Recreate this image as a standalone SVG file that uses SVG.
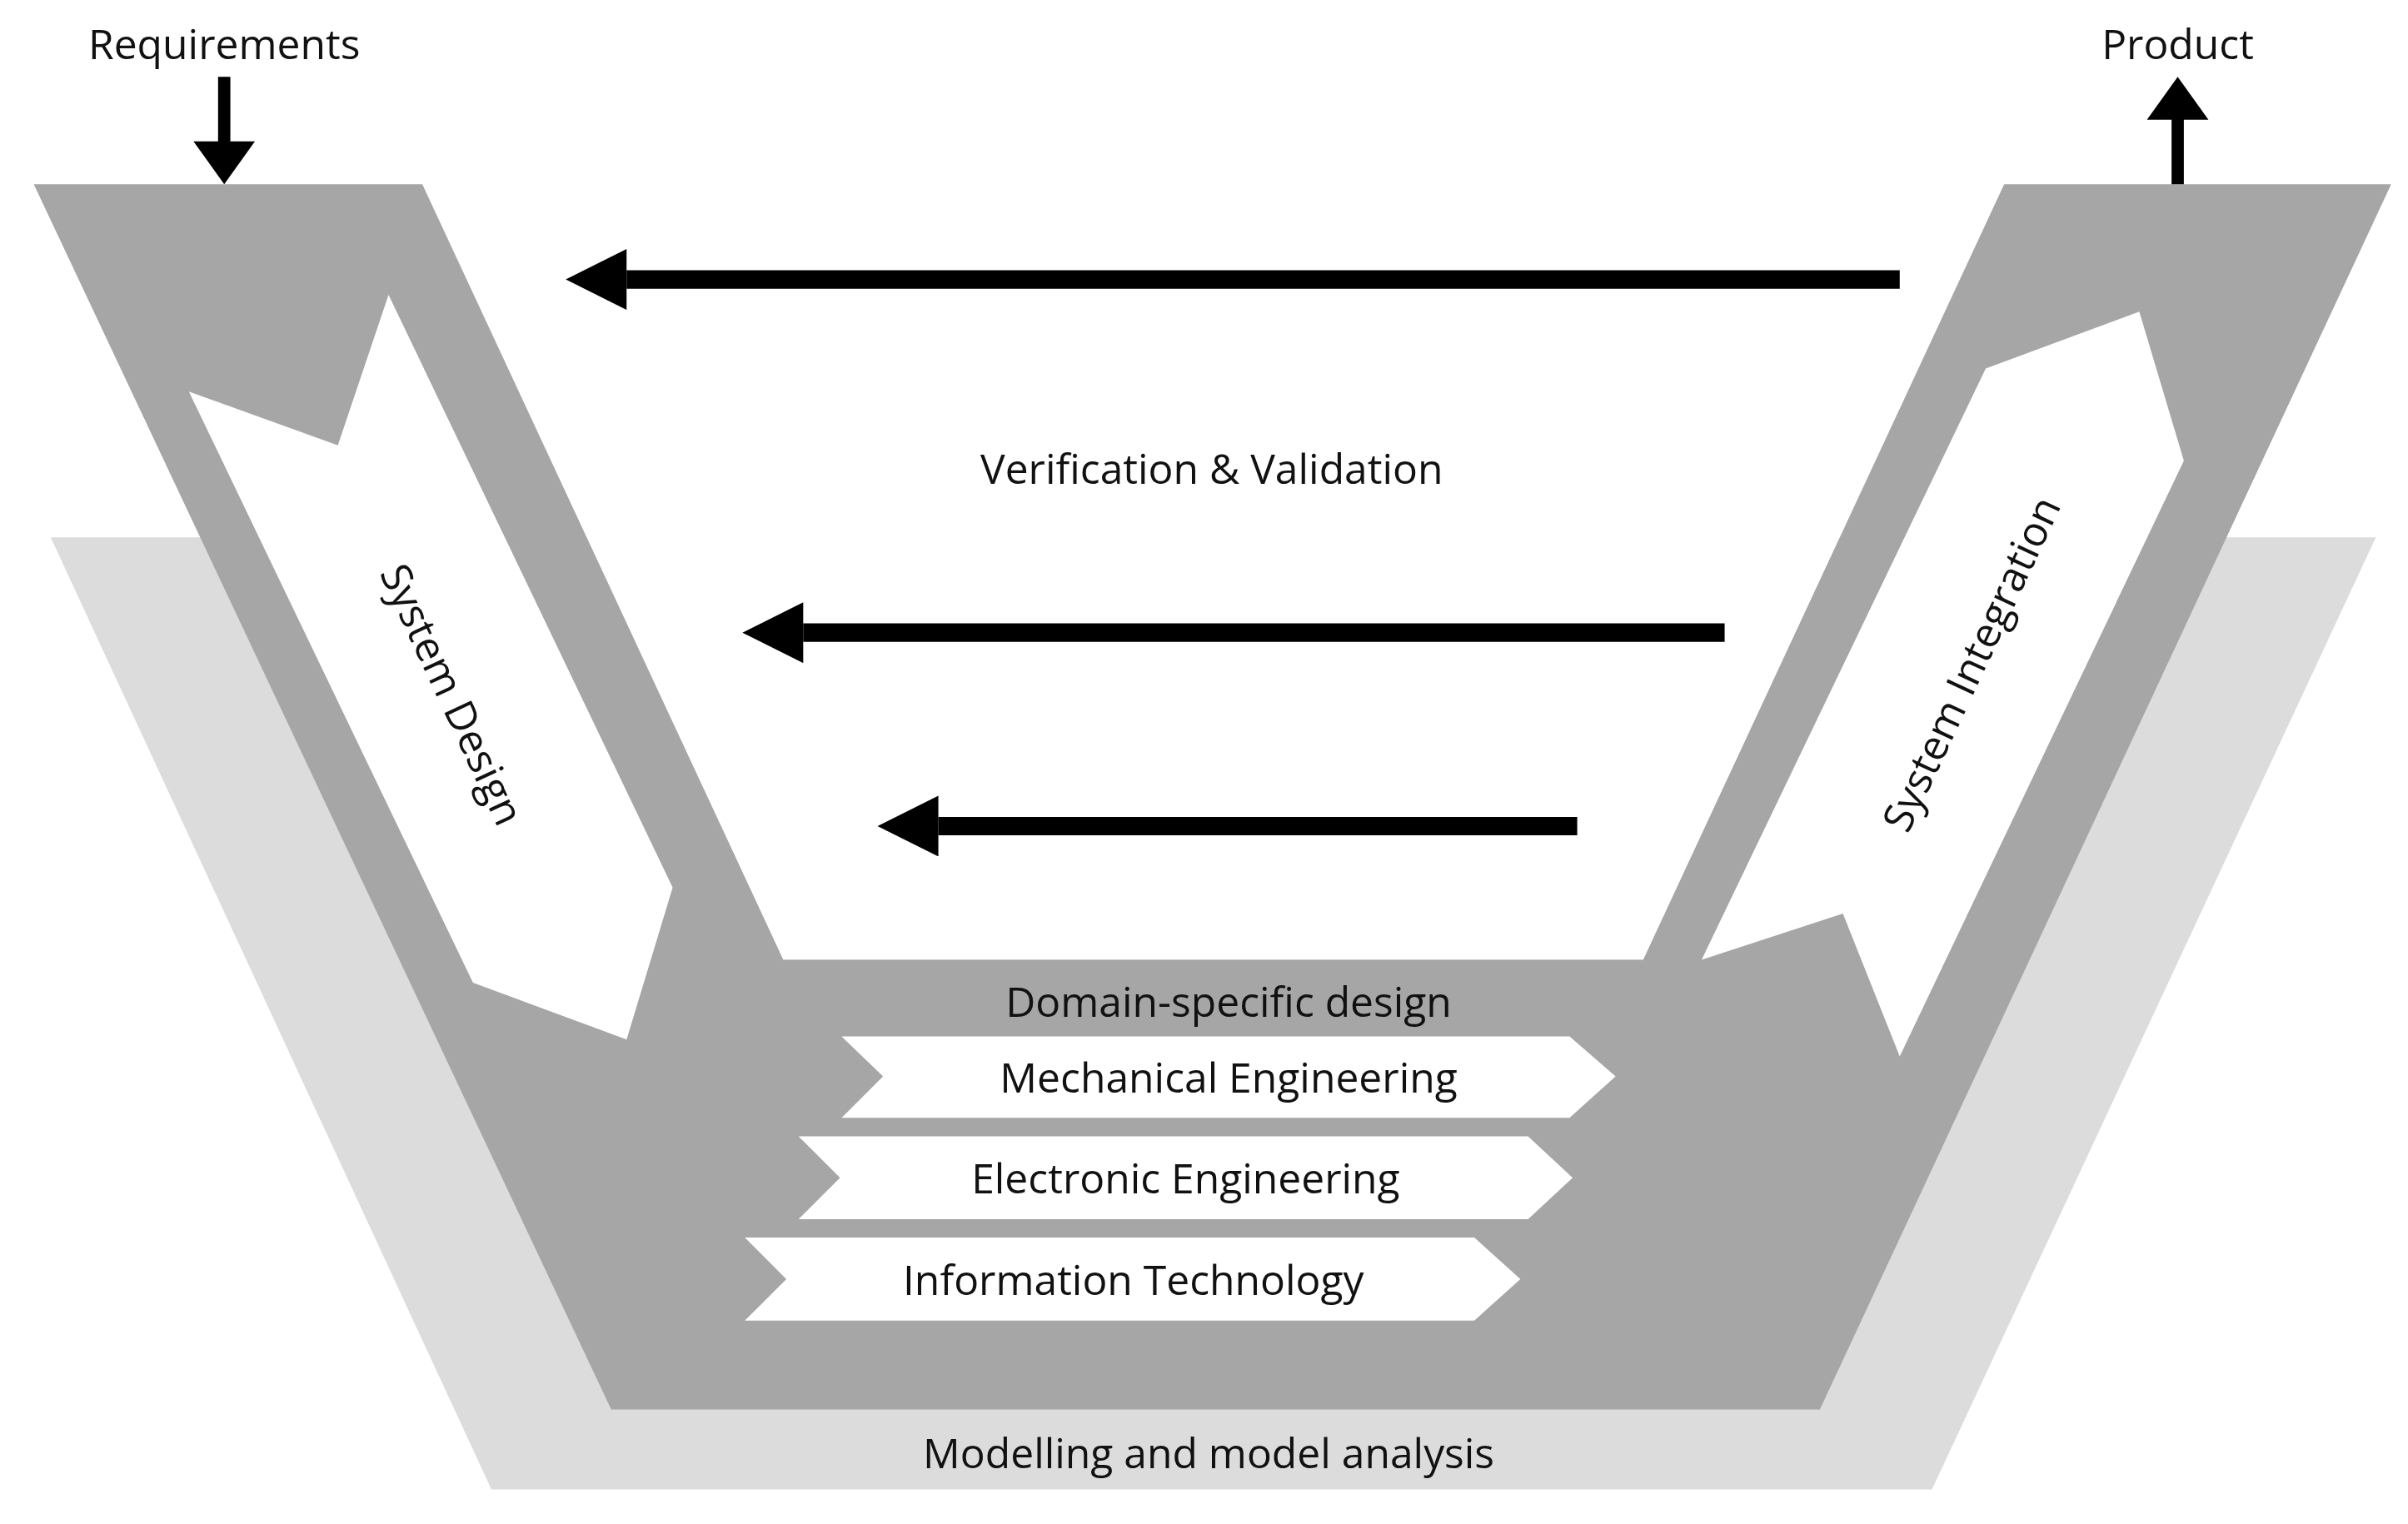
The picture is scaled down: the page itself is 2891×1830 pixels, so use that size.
<svg xmlns="http://www.w3.org/2000/svg" width="2891" height="1830" viewBox="0 0 2891 1830">
<style>
text{font-family:"Open Sans","Liberation Sans",sans-serif;font-size:27px;fill:#111;text-anchor:middle;dominant-baseline:central}
.w{fill:#fff}
.line{stroke:#000;stroke-width:12}
</style>
<defs>
<marker id="ah" viewBox="0 0 10 10" refX="0" refY="5" markerWidth="4.8" markerHeight="3.3" orient="auto" markerUnits="strokeWidth"><path d="M0,0 L10,5 L0,10 z" fill="#000"/></marker>
</defs>
<rect width="2891" height="1830" fill="#fff"/>
<g transform="scale(1.8438)">
<g id="modelling"><polygon points="33,350 1547,350 1258,970 320,970" fill="#dcdcdc"/>
<text x="787" y="946">Modelling and model analysis</text></g>
<g id="vshape"><polygon points="275,120 1305,120 1070,625 510,625" fill="#fff"/>
<polygon points="22,120 275,120 510,625 1070,625 1305,120 1557,120 1185,918 398,918" fill="#a6a6a6"/>
<text x="800" y="652">Domain-specific design</text></g>
<g id="systemDesign"><polygon class="w" points="123,255 220,290 253,192 438,578 408,677 308,640"/>
<text transform="translate(295,452) rotate(65)">System Design</text></g>
<g id="systemIntegration"><polygon class="w" points="1108,625 1200,595 1237,688 1422,300 1393,203 1293,240"/>
<text transform="translate(1283,432) rotate(-65)">System Integration</text></g>
<g id="mech"><polygon class="w" points="548,675 1022,675 1052,701 1022,728 548,728 575,701"/><text x="800" y="701">Mechanical Engineering</text></g>
<g id="elec"><polygon class="w" points="520,740 995,740 1024,767 995,794 520,794 547,767"/><text x="772" y="767">Electronic Engineering</text></g>
<g id="it"><polygon class="w" points="485,806 960,806 990,833 960,860 485,860 512,833"/><text x="738" y="833">Information Technology</text></g>
<g id="vv"><text x="789" y="305">Verification &amp; Validation</text></g>
<g id="req"><text x="146" y="28">Requirements</text></g>
<g id="prod"><text x="1418" y="28">Product</text></g>
<g id="connectors">
<line class="line" x1="1237" y1="182" x2="408" y2="182" marker-end="url(#ah)"/>
<line class="line" x1="1123" y1="412" x2="523" y2="412" marker-end="url(#ah)"/>
<line class="line" x1="1027" y1="538" x2="611" y2="538" marker-end="url(#ah)"/>
<line stroke="#000" stroke-width="8" x1="146" y1="50" x2="146" y2="95"/>
<polygon points="126,92 166,92 146,120"/>
<line stroke="#000" stroke-width="8" x1="1418" y1="120" x2="1418" y2="75"/>
<polygon points="1398,78 1438,78 1418,50"/>
</g>
</g>
</svg>
